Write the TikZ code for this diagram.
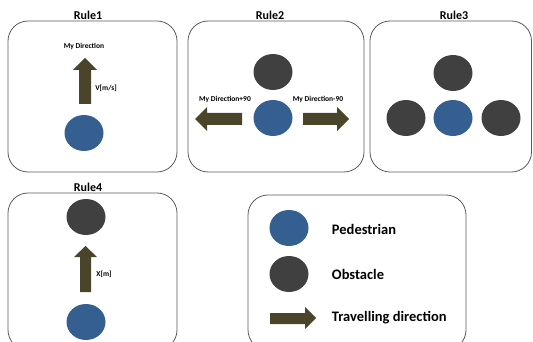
\documentclass[tikz,border=0pt]{standalone}
\usepackage{fontspec}
\setmainfont{Carlito}
\usetikzlibrary{shapes.geometric}

\definecolor{pedblue}{RGB}{53,94,145}
\definecolor{obsgray}{RGB}{64,64,64}
\definecolor{arrowolive}{RGB}{74,69,42}
\definecolor{boxgray}{RGB}{90,90,90}

\tikzset{
  rulebox/.style={draw=boxgray,line width=0.8pt,rounded corners=20pt},
  ped/.style={ellipse,fill=pedblue,minimum width=39pt,minimum height=36pt,inner sep=0pt},
  obs/.style={ellipse,fill=obsgray,minimum width=39pt,minimum height=36pt,inner sep=0pt},
  dirarrow/.style={fill=arrowolive,draw=none},
  ruletitle/.style={inner sep=0.75pt,font=\fontsize{12}{14}\selectfont\bfseries},
  smalllabel/.style={inner sep=0.75pt,font=\fontsize{7.5}{9}\selectfont\bfseries},
  legendlabel/.style={anchor=west,inner sep=0.75pt,font=\fontsize{14.5}{17}\selectfont\bfseries}
}

\begin{document}
\begin{tikzpicture}[x=1pt,y=1pt,yscale=-1,xscale=1]
\useasboundingbox (0,0) rectangle (533,342);
\clip (0,0) rectangle (533,342);

%Rounded Rect [Rule1]
\draw [rulebox] (8,21) rectangle (177,172);
%Rounded Rect [Rule2]
\draw [rulebox] (188,21) rectangle (364,172);
%Rounded Rect [Rule3]
\draw [rulebox] (370,21) rectangle (531.5,172);
%Rounded Rect [Rule4]
\draw [rulebox] (8,193) rectangle (177,350);
%Rounded Rect [legend]
\draw [rulebox] (248,195) rectangle (466,350);

% Text Node
\node [ruletitle] (title1) at (88,15) {Rule1};
% Text Node
\node [ruletitle] (title2) at (270,15) {Rule2};
% Text Node
\node [ruletitle] (title3) at (454,15) {Rule3};
% Text Node
\node [ruletitle] (title4) at (88,187) {Rule4};

%Rule1
\node [ped] (pedA) at (84,133) {};
\draw [dirarrow] (85,58) -- (97,70) -- (91,70) -- (91,104) -- (79,104) -- (79,70) -- (73,70) -- cycle;
\node [smalllabel] (dirA) at (84,46) {My Direction};
\node [smalllabel] (speedA) at (106,88) {V[m/s]};

%Rule2
\node [obs] (obsB) at (273,72) {};
\node [ped] (pedB) at (273,118) {};
\draw [dirarrow] (195,119) -- (207,107) -- (207,113) -- (242,113) -- (242,125) -- (207,125) -- (207,131) -- cycle;
\draw [dirarrow] (349,119) -- (337,107) -- (337,113) -- (303,113) -- (303,125) -- (337,125) -- (337,131) -- cycle;
\node [smalllabel] (leftB) at (225,99) {My Direction+90};
\node [smalllabel] (rightB) at (318,99) {My Direction-90};

%Rule3
\node [obs] (obsCtop) at (453,73) {};
\node [obs] (obsCleft) at (406,118) {};
\node [ped] (pedC) at (453,118) {};
\node [obs] (obsCright) at (501,118) {};

%Rule4
\node [obs] (obsD) at (86,217) {};
\node [ped] (pedD) at (86,322) {};
\draw [dirarrow] (85.5,246) -- (97,257) -- (91,257) -- (91,292) -- (80,292) -- (80,257) -- (74,257) -- cycle;
\node [smalllabel] (distD) at (104,274) {X[m]};

%Legend
\node [ped] (pedL) at (289,228) {};
\node [obs] (obsL) at (289,274) {};
\draw [dirarrow] (316,318) -- (305,307) -- (305,313) -- (270,313) -- (270,324) -- (305,324) -- (305,329) -- cycle;
\node [legendlabel] (pedtext) at (331,229) {Pedestrian};
\node [legendlabel] (obstext) at (331,274) {Obstacle};
\node [legendlabel] (dirtext) at (331,318) {Travelling direction};

\end{tikzpicture}
\end{document}
